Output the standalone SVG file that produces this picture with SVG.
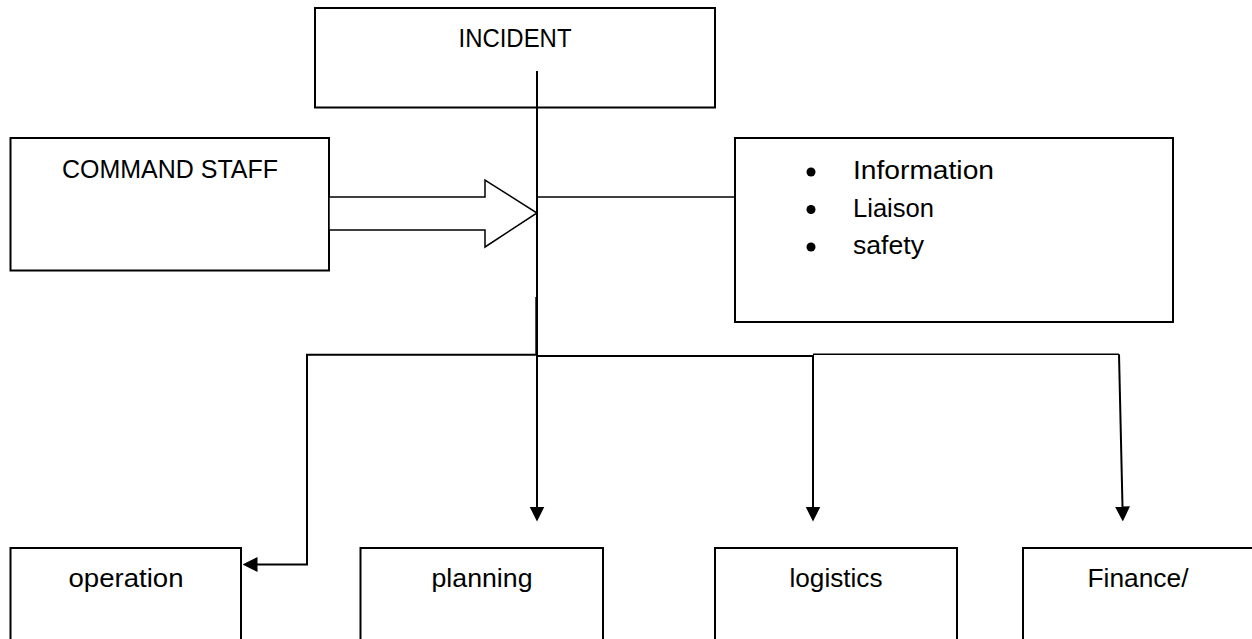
<svg xmlns="http://www.w3.org/2000/svg" width="1252" height="639" viewBox="0 0 1252 639">
  <style>
    .box { fill: #ffffff; stroke: #000000; stroke-width: 2; }
    .lbl { font-family: "Liberation Sans", Arial, sans-serif; font-size: 26px; fill: #000000; }
    .c { text-anchor: middle; }
    .conn { fill: none; stroke: #000000; stroke-width: 2; }
    .thin { fill: none; stroke: #000000; stroke-width: 1.5; }
    .block { fill: #ffffff; stroke: #000000; stroke-width: 1.5; stroke-linejoin: miter; }
  </style>
  <defs>
    <marker id="arrow" viewBox="0 0 15 15" markerWidth="15" markerHeight="15" refX="0.5" refY="7.5" markerUnits="userSpaceOnUse" orient="auto">
      <path d="M0,0 L15,7.5 L0,15 z" fill="#000000"/>
    </marker>
  </defs>
  <rect width="1252" height="639" fill="#ffffff"/>

  <g id="incident">
    <rect class="box" x="315" y="8" width="400" height="99.5"/>
    <text class="lbl c" x="515" y="47" textLength="113" lengthAdjust="spacingAndGlyphs">INCIDENT</text>
  </g>

  <g id="command-staff">
    <rect class="box" x="10.5" y="138" width="318.5" height="132.5"/>
    <text class="lbl c" x="170" y="178" textLength="216" lengthAdjust="spacingAndGlyphs">COMMAND STAFF</text>
  </g>

  <g id="staff-list">
    <rect class="box" x="735" y="138" width="438" height="184"/>
    <circle cx="811" cy="172" r="4.5" fill="#000000"/>
    <circle cx="811" cy="209.5" r="4.5" fill="#000000"/>
    <circle cx="811" cy="247" r="4.5" fill="#000000"/>
    <text class="lbl" x="853" y="179" textLength="141" lengthAdjust="spacingAndGlyphs">Information</text>
    <text class="lbl" x="853" y="216.5" textLength="81" lengthAdjust="spacingAndGlyphs">Liaison</text>
    <text class="lbl" x="853" y="254" textLength="71" lengthAdjust="spacingAndGlyphs">safety</text>
  </g>

  <g id="operation">
    <rect class="box" x="10.5" y="548" width="230.5" height="110"/>
    <text class="lbl c" x="126" y="587" textLength="115" lengthAdjust="spacingAndGlyphs">operation</text>
  </g>

  <g id="planning">
    <rect class="box" x="360.5" y="548" width="242.5" height="110"/>
    <text class="lbl c" x="482" y="587" textLength="101" lengthAdjust="spacingAndGlyphs">planning</text>
  </g>

  <g id="logistics">
    <rect class="box" x="715" y="548" width="242" height="110"/>
    <text class="lbl c" x="836" y="587" textLength="93" lengthAdjust="spacingAndGlyphs">logistics</text>
  </g>

  <g id="finance">
    <rect class="box" x="1023" y="548" width="232" height="110"/>
    <text class="lbl c" x="1138" y="587" textLength="101" lengthAdjust="spacingAndGlyphs">Finance/</text>
  </g>

  <g id="connectors">
    <polygon class="block" points="329,197 485,197 485,180 537,213 485,247 485,230 329,230"/>
    <path class="thin" d="M537,197 H735"/>
    <path class="conn" d="M537,71 V507" marker-end="url(#arrow)"/>
    <path class="conn" d="M536.3,297 V355"/>
    <path class="conn" d="M537,354.7 H307 V564.5 H257" marker-end="url(#arrow)"/>
    <path class="conn" d="M537,356 H813 V507" marker-end="url(#arrow)"/>
    <path class="thin" d="M813,354.3 H1119"/>
    <path class="conn" d="M1119,354.3 L1122.5,507" marker-end="url(#arrow)"/>
  </g>
</svg>
